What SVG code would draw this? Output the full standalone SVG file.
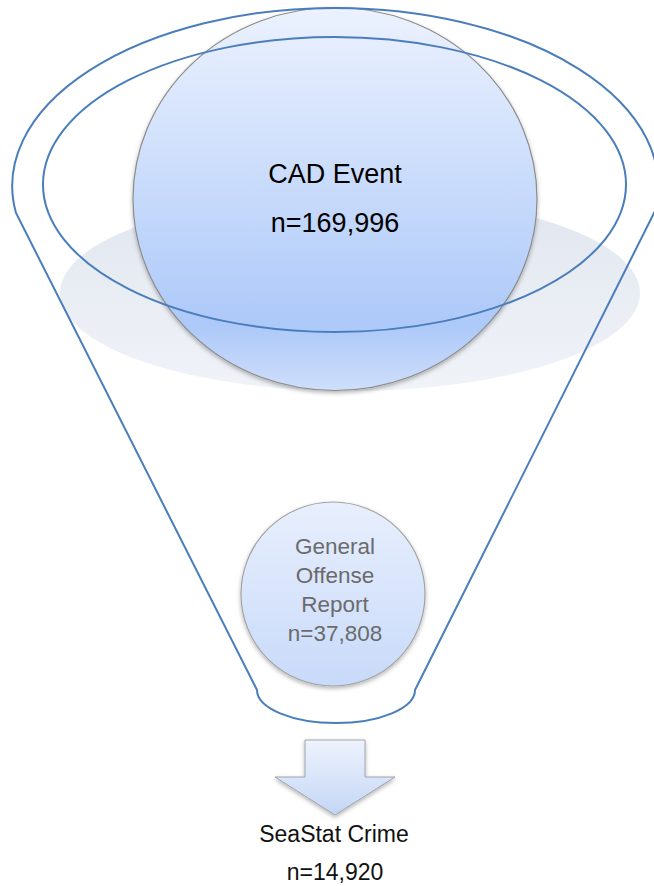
<svg xmlns="http://www.w3.org/2000/svg" width="654" height="886" viewBox="0 0 654 886">
  <style>
    .funnel { fill: none; stroke: #4a7ebb; stroke-width: 2; }
    .lbl { font-family: "Liberation Sans", Arial, sans-serif; text-anchor: middle; }
    .big { font-size: 27px; fill: #000; }
    .mid { font-size: 22.5px; fill: #6b6b6b; }
    .out { font-size: 23px; fill: #111; }
  </style>
  <defs>
    <linearGradient id="gShadow" x1="0" y1="0" x2="0" y2="1">
      <stop offset="0" stop-color="#e1e6ef"/>
      <stop offset="1" stop-color="#f0f3f8"/>
    </linearGradient>
    <linearGradient id="gBig" x1="0" y1="0" x2="0" y2="1">
      <stop offset="0" stop-color="#ecf2fe"/>
      <stop offset="0.83" stop-color="#adc9f9"/>
      <stop offset="1" stop-color="#cfdefb"/>
    </linearGradient>
    <linearGradient id="gSmall" x1="0" y1="0" x2="0" y2="1">
      <stop offset="0" stop-color="#e8effd"/>
      <stop offset="1" stop-color="#c8dafa"/>
    </linearGradient>
    <linearGradient id="gArrow" x1="0" y1="0" x2="0" y2="1">
      <stop offset="0" stop-color="#eef3fd"/>
      <stop offset="1" stop-color="#c4d6f6"/>
    </linearGradient>
    <filter id="sh" x="-10%" y="-10%" width="120%" height="125%">
      <feDropShadow dx="0" dy="2" stdDeviation="2" flood-color="#000" flood-opacity="0.3"/>
    </filter>
  </defs>

  <g id="funnel">
    <ellipse cx="350" cy="293" rx="290" ry="98" fill="url(#gShadow)"/>
  </g>

  <g id="cad-event">
    <ellipse cx="335" cy="199" rx="202" ry="191.5" fill="url(#gBig)" stroke="#8c8c8c" stroke-width="1.2" filter="url(#sh)"/>
  </g>

  <g id="funnel-lines">
    <ellipse class="funnel" cx="334.5" cy="184.5" rx="291.5" ry="147.5"/>
    <path class="funnel" d="M 257 690 L 16 213 A 323 178 0 1 1 655 211 L 415 690 A 79 33 0 0 1 257 690 Z"/>
  </g>

  <g id="cad-event-text">
    <text class="lbl big" x="335" y="183">CAD Event</text>
    <text class="lbl big" x="335" y="232">n=169,996</text>
  </g>

  <g id="general-offense">
    <circle cx="333" cy="594" r="92" fill="url(#gSmall)" stroke="#a3a3a3" stroke-width="1.2" filter="url(#sh)"/>
    <text class="lbl mid" x="335" y="554">General</text>
    <text class="lbl mid" x="335" y="583">Offense</text>
    <text class="lbl mid" x="335" y="612">Report</text>
    <text class="lbl mid" x="335" y="641">n=37,808</text>
  </g>

  <g id="connectors">
    <path d="M 305 740 L 365 740 L 365 777 L 395 777 L 335 815 L 275 777 L 305 777 Z" fill="url(#gArrow)" stroke="#a0a4ab" stroke-width="1" filter="url(#sh)"/>
  </g>

  <g id="seastat-crime">
    <text class="lbl out" x="334" y="842">SeaStat Crime</text>
    <text class="lbl out" x="335" y="880">n=14,920</text>
  </g>
</svg>
